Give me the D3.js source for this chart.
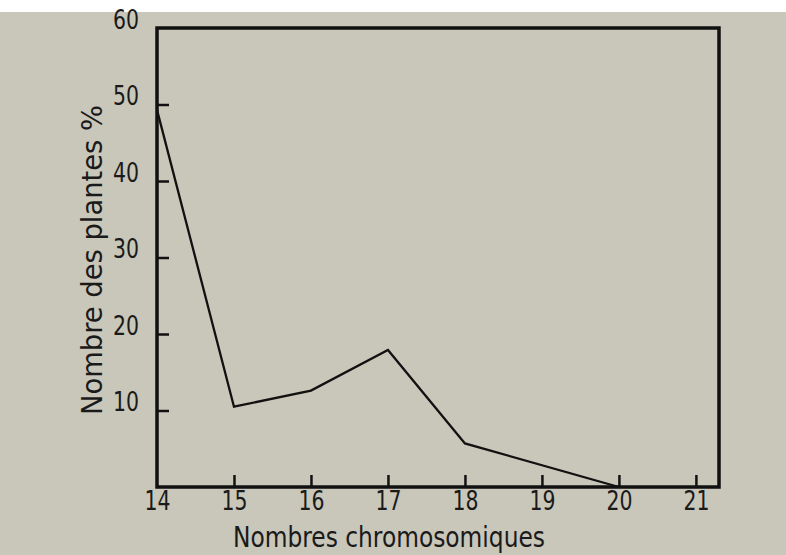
<!DOCTYPE html>
<html>
<head>
<meta charset="utf-8">
<script src="https://cdn.jsdelivr.net/npm/d3@7"></script>
<style>
  body { margin: 0; background: #fff; }
  text { font-family: "DejaVu Sans Condensed", "DejaVu Sans", sans-serif; fill: #1a1a1a; }
</style>
</head>
<body>
<svg id="chart" width="786" height="555"></svg>
<script>
var chromosomes = [14, 15, 16, 17, 18, 20];
var percents = [49.3, 10.5, 12.6, 17.9, 5.7, 0];
var xTicks = [14, 15, 16, 17, 18, 19, 20, 21];
var yTicks = [10, 20, 30, 40, 50, 60];

var svg = d3.select("#chart");
var margin = {top: 28, right: 67, bottom: 68, left: 157};
var width = 786 - margin.left - margin.right;
var height = 555 - margin.top - margin.bottom;

// scanned paper
svg.append("rect").attr("x", 0).attr("y", 12).attr("width", 786).attr("height", 543)
  .attr("fill", "#c9c6ba");

var g = svg.append("g").attr("transform", "translate(" + margin.left + "," + margin.top + ")");

var x = d3.scaleLinear().domain([14, 21.3]).range([0, width]);
var y = d3.scaleLinear().domain([0, 60]).range([height, 0]);

// frame
g.append("rect").attr("width", width).attr("height", height)
  .attr("fill", "none").attr("stroke", "#111").attr("stroke-width", 3.5);

// ticks drawn inward
var xAxis = d3.axisBottom(x).tickValues(xTicks).tickSize(-12).tickPadding(5).tickFormat(d3.format("d"));
var xAxisG = g.append("g").attr("transform", "translate(0," + height + ")").call(xAxis);
var yAxis = d3.axisLeft(y).tickValues(yTicks).tickSize(-12).tickPadding(18).tickFormat(d3.format("d"));
var yAxisG = g.append("g").call(yAxis);

[xAxisG, yAxisG].forEach(function (a) {
  a.select(".domain").remove();
  a.selectAll(".tick line").attr("stroke", "#111").attr("stroke-width", 2.5);
  a.selectAll(".tick text").attr("font-size", 26).attr("fill", "#1a1a1a")
    .attr("textLength", 26).attr("lengthAdjust", "spacingAndGlyphs");
});
xAxisG.selectAll(".tick").filter(function (d) { return d === 14; }).select("line").remove();
yAxisG.selectAll(".tick").filter(function (d) { return d === 60; }).select("line").remove();
yAxisG.selectAll(".tick text").attr("y", -8);

// data line
var line = d3.line().x(function (d, i) { return x(chromosomes[i]); }).y(function (d) { return y(d); });
g.append("path").datum(percents).attr("d", line)
  .attr("fill", "none").attr("stroke", "#111").attr("stroke-width", 2.3);

// axis titles
g.append("text").attr("x", 232).attr("y", height + 60)
  .attr("text-anchor", "middle").attr("font-size", 29)
  .attr("textLength", 312).attr("lengthAdjust", "spacingAndGlyphs")
  .text("Nombres chromosomiques");
g.append("text").attr("transform", "translate(-55,232) rotate(-90)")
  .attr("text-anchor", "middle").attr("font-size", 29)
  .attr("textLength", 310).attr("lengthAdjust", "spacingAndGlyphs")
  .text("Nombre des plantes %");
</script>
</body>
</html>
